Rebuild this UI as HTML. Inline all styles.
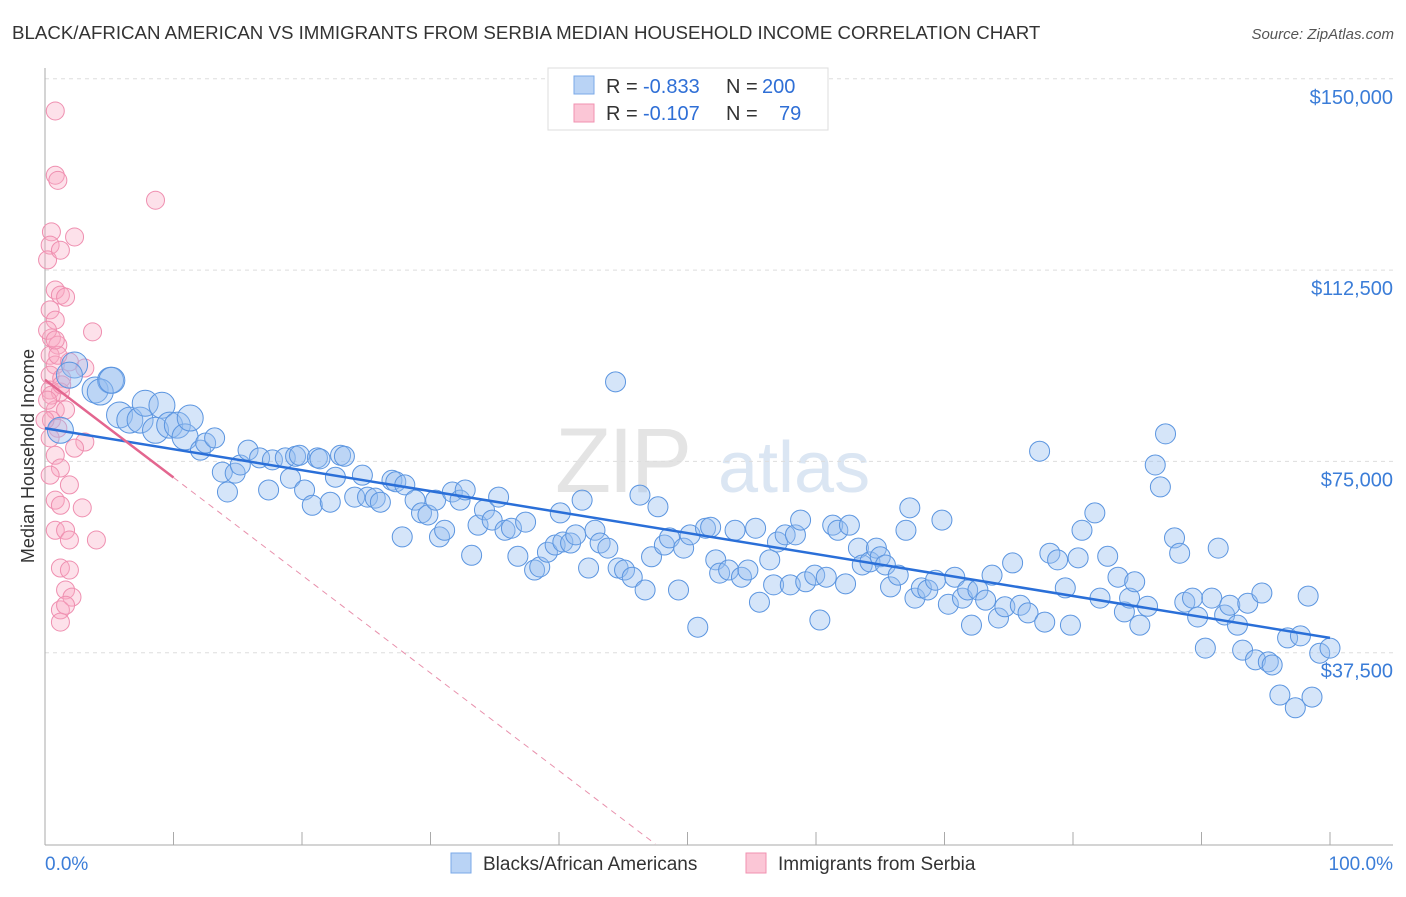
<!DOCTYPE html>
<html><head><meta charset="utf-8"><style>
body{margin:0;background:#fff;font-family:"Liberation Sans",sans-serif;}
svg text{font-family:"Liberation Sans",sans-serif;}
</style></head><body>
<svg id="chart" width="1406" height="892" viewBox="0 0 1406 892" xmlns="http://www.w3.org/2000/svg">
<text x="12" y="39" font-size="18.7" fill="#333">BLACK/AFRICAN AMERICAN VS IMMIGRANTS FROM SERBIA MEDIAN HOUSEHOLD INCOME CORRELATION CHART</text>
<text x="1394" y="39" font-size="15" fill="#555" text-anchor="end" font-style="italic">Source: ZipAtlas.com</text>
<g>
<text x="555" y="492" font-size="92" fill="#e4e4e4" font-family="Liberation Serif" letter-spacing="-3">ZIP</text>
<text x="718" y="492" font-size="72" fill="#dbe6f3">atlas</text>
</g>
<g id="grid"></g>
<g id="axes"></g>
<g id="pink"></g>
<g id="blue"></g>
<g id="lines"></g>
<text transform="translate(34,456) rotate(-90)" font-size="18" fill="#333" text-anchor="middle">Median Household Income</text>
<g font-size="20">
<rect x="548" y="68" width="280" height="62" fill="#fff" stroke="#ddd"/>
<rect x="574" y="76" width="20" height="18" fill="#b9d3f5" stroke="#7aa8e8"/>
<rect x="574" y="104" width="20" height="18" fill="#fbc6d6" stroke="#f191b0"/>
<text x="606" y="93" fill="#333">R =</text><text x="643" y="93" fill="#2f6fd6">-0.833</text>
<text x="726" y="93" fill="#333">N =</text><text x="762" y="93" fill="#2f6fd6">200</text>
<text x="606" y="120" fill="#333">R =</text><text x="643" y="120" fill="#2f6fd6">-0.107</text>
<text x="726" y="120" fill="#333">N =</text><text x="779" y="120" fill="#2f6fd6">79</text>
</g>
<g>
<rect x="451" y="853" width="20" height="20" fill="#b9d3f5" stroke="#7aa8e8"/>
<text x="483" y="870" font-size="19" fill="#333">Blacks/African Americans</text>
<rect x="746" y="853" width="20" height="20" fill="#fbc6d6" stroke="#f191b0"/>
<text x="778" y="870" font-size="19" fill="#333">Immigrants from Serbia</text>
</g>
</svg>
<script>
const yTicks=[37500,75000,112500,150000];
const yTickLabels=["$37,500","$75,000","$112,500","$150,000"];
const xTickPcts=[0,10,20,30,40,50,60,70,80,90,100];
const xLabels=["0.0%","100.0%"];
const blackPct=[1.2,2.3,1.9,3.9,5.1,4.3,5.2,5.8,6.6,7.4,7.8,8.6,9.1,9.7,10.3,10.9,11.3,12.1,12.5,13.2,13.8,14.2,14.8,15.2,15.8,16.7,17.4,17.7,18.7,19.1,19.5,19.8,20.2,20.8,21.2,21.4,22.2,22.6,23.0,23.3,24.1,24.7,25.1,25.7,26.1,27.0,27.3,28.0,27.8,28.8,29.3,29.8,30.4,30.7,31.1,31.7,32.3,32.7,33.2,33.7,34.2,34.8,35.3,35.8,36.3,36.8,37.4,38.1,38.5,39.1,39.7,40.1,40.3,40.9,41.3,41.8,42.3,42.8,43.2,43.8,44.4,44.6,45.1,45.7,46.3,46.7,47.2,47.7,48.2,48.6,49.3,49.7,50.2,50.8,51.4,51.8,52.2,52.5,53.2,53.7,54.2,54.7,55.3,55.6,56.4,56.7,57.0,57.6,58.0,58.4,58.8,59.2,59.9,60.3,60.8,61.3,61.7,62.3,62.6,63.3,63.6,64.2,64.7,65.0,65.4,65.8,66.4,67.0,67.3,67.7,68.2,68.7,69.3,69.8,70.3,70.8,71.4,71.8,72.1,72.6,73.2,73.7,74.2,74.7,75.3,75.9,76.5,77.4,77.8,78.2,78.8,79.4,79.8,80.4,80.7,81.7,82.1,82.7,83.5,84.0,84.4,84.8,85.2,85.8,86.4,86.8,87.2,87.9,88.3,88.7,89.3,89.7,90.3,90.8,91.3,91.8,92.2,92.8,93.2,93.6,94.2,94.7,95.2,95.5,96.1,96.7,97.3,97.7,98.3,98.6,99.2,100];
const blackIncomeK=[81.1,93.9,91.9,89.0,90.9,88.6,90.9,84.1,83.1,83.1,86.4,81.1,86.0,82.1,82.1,79.8,83.5,77.2,78.6,79.6,72.9,69.0,72.7,74.3,77.2,75.7,69.4,75.3,75.7,71.7,76.0,76.2,69.4,66.4,75.7,75.5,67.0,71.9,76.2,76.0,68.0,72.3,68.0,67.8,67.0,71.3,71.0,70.4,60.2,67.4,64.9,64.5,67.4,60.2,61.5,69.0,67.4,69.4,56.6,62.5,65.5,63.5,68.0,61.5,61.9,56.4,63.1,53.7,54.3,57.2,58.6,64.9,59.2,59.0,60.6,67.4,54.1,61.5,59.0,58.0,90.6,54.1,53.7,52.3,68.4,49.8,56.3,66.1,58.6,60.0,49.8,58.0,60.6,42.5,61.9,62.1,55.7,53.1,53.7,61.5,52.3,53.7,61.9,47.4,55.7,50.8,59.2,60.6,50.8,60.6,63.5,51.4,52.7,43.9,52.3,62.5,61.5,51.0,62.5,58.0,54.7,55.3,58.0,56.3,54.7,50.4,52.7,61.5,65.9,48.2,50.2,49.8,51.7,63.5,47.0,52.3,48.2,49.8,42.9,49.8,47.8,52.7,44.3,46.5,55.1,46.8,45.3,77.0,43.5,57.0,55.7,50.2,42.9,56.1,61.5,64.9,48.2,56.4,52.3,45.5,48.2,51.4,42.9,46.6,74.3,70.0,80.4,60.0,57.0,47.4,48.2,44.5,38.4,48.2,58.0,44.9,46.8,42.9,38.0,47.2,36.1,49.2,35.7,35.1,29.2,40.4,26.7,40.8,48.6,28.8,37.4,38.4];
const serbiaPct=[0.8,0.8,1.0,8.6,0.5,2.3,0.4,0.8,1.2,1.6,0.4,0.8,3.7,0.5,1.0,0.4,0.8,1.9,0.4,1.3,3.1,0.4,1.2,0.8,1.6,0.5,1.0,0.4,3.1,2.3,0.8,1.2,0.4,1.9,0.8,1.2,2.9,0.8,1.6,1.9,4.0,1.2,1.9,1.6,2.1,1.2,1.6,1.2,0.5,0.2,1.0,0.2,1.3,0.8,0,0.2,1.2];
const serbiaIncomeK=[143.7,131.1,130.1,126.2,120.0,119.0,117.4,108.6,107.6,107.2,104.7,102.7,100.4,99.2,97.8,95.8,93.9,94.5,91.9,91.3,93.3,89.0,88.6,85.1,85.1,83.1,81.5,79.6,78.8,77.6,76.2,73.7,72.3,70.4,67.4,66.4,65.9,61.5,61.5,59.6,59.6,54.1,53.7,49.8,48.4,45.9,46.8,43.5,88.0,87.0,95.8,100.7,90.0,98.8,83.1,114.5,116.4];
const blackTrend=[81.5,40.4];
const serbiaTrend=[91.0,-1.916];
const serbiaSolidEnd=10;

const X0=45,XW=1285,Y0=844,YPX=191.3/37500;
const xs=p=>X0+p/100*XW;
const ys=v=>Y0-v*YPX;
const NS="http://www.w3.org/2000/svg";
function mk(tag,attrs,parent){const e=document.createElementNS(NS,tag);for(const k in attrs)e.setAttribute(k,attrs[k]);parent.appendChild(e);return e;}
const grid=document.getElementById('grid'),axes=document.getElementById('axes');
yTicks.forEach((t,i)=>{
  const g=mk('line',{x1:45,x2:1393,y1:ys(t),y2:ys(t),stroke:'#ddd','stroke-dasharray':'4,4'},grid);
  
  
  const tx=mk('text',{x:1393,y:ys(t)+25,'font-size':20,fill:'#3b7dd8','text-anchor':'end'},axes);
  tx.textContent=yTickLabels[i];
  
  
});
mk('line',{x1:45,x2:45,y1:68,y2:845,stroke:'#aaa'},axes);
mk('line',{x1:45,x2:1393,y1:845,y2:845,stroke:'#aaa'},axes);
xTickPcts.forEach(p=>{
  const t=mk('line',{x1:xs(p),x2:xs(p),y1:832,y2:845,stroke:'#aaa'},axes);
  
  
});
let l=mk('text',{x:45,y:870,'font-size':19,fill:'#3b7dd8'},axes);l.textContent=xLabels[0];


l=mk('text',{x:1393,y:870,'font-size':19,fill:'#3b7dd8','text-anchor':'end'},axes);l.textContent=xLabels[1];



const pink=document.getElementById('pink'),blue=document.getElementById('blue');
serbiaPct.forEach((p,i)=>{
  const c=mk('circle',{cx:xs(p),cy:ys(serbiaIncomeK[i]*1000),r:9,fill:'rgba(248,170,196,0.35)',stroke:'#ef8fb0','stroke-width':1},pink);
  
  
});
blackPct.forEach((p,i)=>{
  const c=mk('circle',{cx:xs(p),cy:ys(blackIncomeK[i]*1000),r:p<12?13:10,fill:'rgba(150,190,240,0.4)',stroke:'#5b95e0','stroke-width':1},blue);
  
  
});
const lines=document.getElementById('lines');
let ln=mk('line',{x1:xs(0),y1:ys(blackTrend[0]*1000),x2:xs(100),y2:ys(blackTrend[1]*1000),stroke:'#2a6fd8','stroke-width':2.5},lines);


const zeroP=-serbiaTrend[0]/serbiaTrend[1];
ln=mk('line',{x1:xs(serbiaSolidEnd),y1:ys((serbiaTrend[0]+serbiaTrend[1]*serbiaSolidEnd)*1000),x2:xs(zeroP),y2:ys(0),stroke:'#e890ac','stroke-width':1,'stroke-dasharray':'6,5'},lines);


ln=mk('line',{x1:xs(0),y1:ys(serbiaTrend[0]*1000),x2:xs(serbiaSolidEnd),y2:ys((serbiaTrend[0]+serbiaTrend[1]*serbiaSolidEnd)*1000),stroke:'#e3668f','stroke-width':2.5},lines);


</script>
</body></html>
